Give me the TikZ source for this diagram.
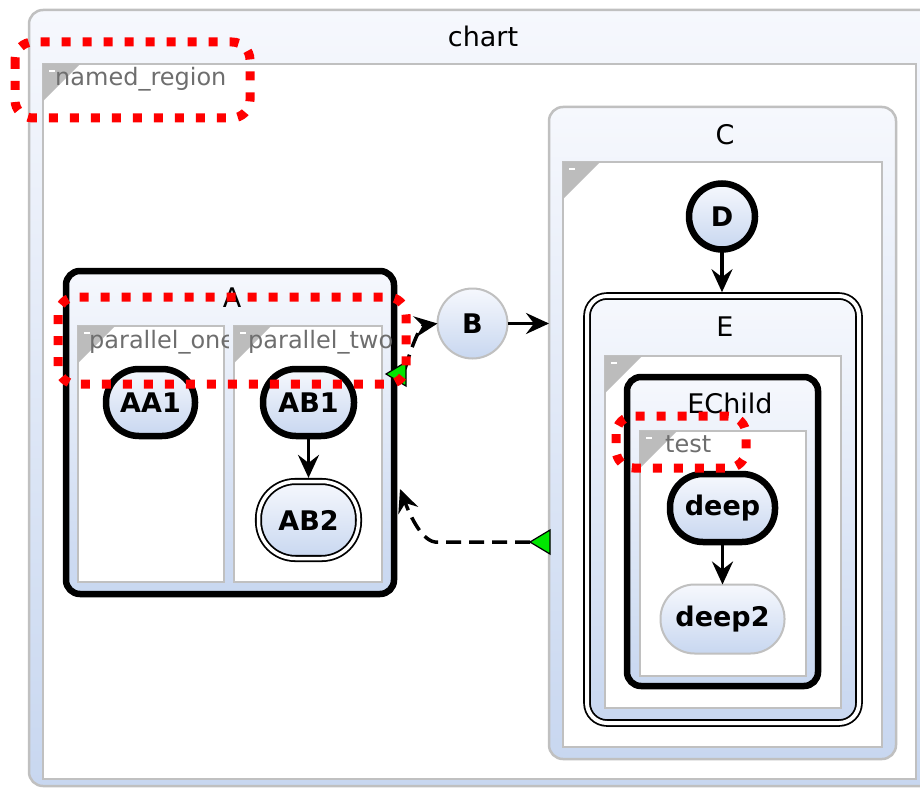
\documentclass[tikz,border=0pt]{standalone}
\usepackage{fontspec}
\setmainfont{DejaVu Sans}
\usetikzlibrary{arrows.meta}

\definecolor{stTop}{RGB}{246,248,253}
\definecolor{stBot}{RGB}{200,215,240}
\definecolor{regGray}{RGB}{192,192,192}
\definecolor{triGray}{RGB}{188,188,188}
\definecolor{lblGray}{RGB}{110,110,110}
\definecolor{exitGreen}{RGB}{0,230,0}

\begin{document}
\begin{tikzpicture}[x=1pt,y=-1pt,
    gradbox/.style={rectangle,inner sep=0pt,outer sep=0pt,top color=stTop,bottom color=stBot},
    stcompound/.style={gradbox,draw=black,line width=6.5pt,rounded corners=14pt},
    stplain/.style={gradbox,draw=regGray,line width=2.5pt,rounded corners=14pt},
    stregion/.style={rectangle,inner sep=0pt,outer sep=0pt,draw=regGray,line width=2.5pt,fill=white,anchor=north west},
    statefont/.style={font=\fontsize{27}{32}\selectfont\bfseries},
    stsimple/.style={gradbox,draw=black,line width=6.5pt,rounded corners=33pt,statefont},
    sttitle/.style={inner sep=0pt,font=\fontsize{27}{32}\selectfont},
    reglabel/.style={inner sep=0pt,anchor=base west,text=lblGray,font=\fontsize{24}{28}\selectfont},
    transarrow/.style={line width=3.5pt,-{Stealth[length=23pt,width=21pt,inset=8pt]}},
    transdashed/.style={transarrow,dash pattern=on 15pt off 8pt},
    exitmark/.style={fill=exitGreen,draw=black,line width=1.2pt},
    hilite/.style={draw=red,line width=9pt,dash pattern=on 9pt off 12pt,rounded corners=18pt}]
  \useasboundingbox (0,0) rectangle (920,789);
  \clip (0,0) rectangle (920,789);

  % chart and its region
  \node[stplain,minimum width=906pt,minimum height=776pt] (chart) at (482,398) {};
  \node[sttitle] (chartT) at (483,36) {chart};
  \node[stregion,minimum width=873pt,minimum height=715pt] (rNamed) at (43,64) {};

  % state A with two parallel regions
  \node[stcompound,minimum width=328pt,minimum height=323pt] (A) at (230,432.5) {};
  \node[sttitle] (AT) at (232,298) {A};
  \node[stregion,minimum width=146pt,minimum height=256pt] (rOne) at (78,326) {};
  \node[stregion,minimum width=148pt,minimum height=256pt] (rTwo) at (234,326) {};

  % B
  \node[gradbox,circle,draw=regGray,line width=2pt,minimum size=70pt,statefont] (B) at (472.5,323.5) {B};

  % state C
  \node[stplain,minimum width=347pt,minimum height=652pt] (C) at (722.5,433) {};
  \node[sttitle] (CT) at (725,135) {C};
  \node[stregion,minimum width=319pt,minimum height=585pt] (rC) at (563,162) {};
  \node[gradbox,circle,draw=black,line width=6.5pt,minimum size=66pt,statefont] (D) at (722,216.5) {D};
  \node[gradbox,draw=black,line width=1.8pt,double=white,double distance=4pt,outer sep=3.8pt,
    rounded corners=20pt,minimum width=272pt,minimum height=427pt] (E) at (723,509.5) {};
  \node[sttitle] (ET) at (725,327) {E};
  \node[stregion,minimum width=236pt,minimum height=352pt] (rE) at (605,356) {};
  \node[stcompound,minimum width=191pt,minimum height=309pt] (EChild) at (722.5,531.5) {};
  \node[sttitle] (EChildT) at (730,403) {EChild};
  \node[stregion,minimum width=166pt,minimum height=245pt] (rTest) at (640,431) {};

  % region corners
  \foreach \r in {rNamed,rOne,rTwo,rC,rE,rTest}{
    \fill[triGray] (\r.north west) -- ++(37,0) -- ++(-37,37) -- cycle;
    \draw[white,line width=2pt] ([shift={(6,7)}]\r.north west) -- ++(6,0);
  }

  % region labels
  \node[reglabel] (rNamedT) at (55,86) {named\_region};
  \begin{scope}
    \clip (rOne.north west) rectangle (228,582);
    \node[reglabel] (rOneT) at (89,348) {parallel\_one};
  \end{scope}
  \begin{scope}
    \clip (rTwo.north west) rectangle (392,582);
    \node[reglabel] (rTwoT) at (248,348) {parallel\_two};
  \end{scope}
  \node[reglabel] (rTestT) at (665,452) {test};

  % simple states
  \node[stsimple,minimum width=89pt,minimum height=67pt] (AA1) at (150.5,402.5) {AA1};
  \node[stsimple,minimum width=91pt,minimum height=67pt] (AB1) at (308.5,402.5) {AB1};
  \node[stsimple,line width=1.8pt,double=white,double distance=3.5pt,outer sep=3.6pt,
    rounded corners=37pt,minimum width=100pt,minimum height=77pt] (AB2) at (308.5,520) {AB2};
  \node[stsimple,minimum width=105pt,minimum height=68pt] (deep) at (722.5,508) {deep};
  \node[stsimple,draw=regGray,line width=2pt,rounded corners=34pt,minimum width=124pt,minimum height=69pt] (deep2) at (722.5,619) {deep2};

  % transitions
  \draw[transarrow] (AB1) -- (AB2);
  \draw[transarrow] (deep) -- (deep2);
  \draw[transarrow] (D) -- (D |- E.north);
  \draw[transarrow] (B) -- (B -| C.west);
  \coordinate (exitAB) at (405,369);
  \coordinate (exitCA) at (530,542);
  \coordinate (entryCA) at (400,489);
  \draw[transdashed] (exitAB) .. controls (412,345) and (420,326) .. (B.west);
  \draw[transdashed] (exitCA) -- (435,542) .. controls (420,540) and (408,510) .. (entryCA);
  \filldraw[exitmark] (386,374) -- (406,362) -- (406,386) -- cycle;
  \filldraw[exitmark] (exitCA) -- (550,530) -- (550,554) -- cycle;

  % highlights
  \draw[hilite] (15,42) rectangle (250,118);
  \draw[hilite] (58,297) rectangle (406,384);
  \draw[hilite] (616,416) rectangle (746,468);
\end{tikzpicture}
\end{document}
